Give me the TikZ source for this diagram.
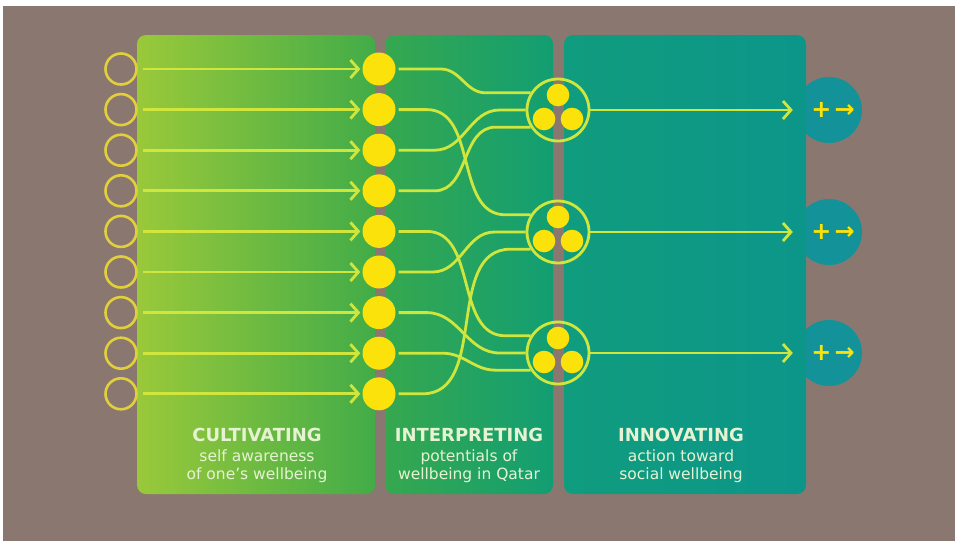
\documentclass[tikz,border=0pt]{standalone}
\usepackage{fontspec}
\setmainfont{DejaVu Sans}
\usetikzlibrary{arrows.meta,calc}
\definecolor{bgbrown}{HTML}{8A7870}
\definecolor{ringgold}{HTML}{E2CF3C}
\definecolor{linegreen}{HTML}{D0E63C}
\definecolor{dotyellow}{HTML}{FBE20A}
\definecolor{pa}{HTML}{9AC93A}
\definecolor{pb}{HTML}{42AC48}
\definecolor{pc}{HTML}{36A84E}
\definecolor{pd}{HTML}{129E73}
\definecolor{pe}{HTML}{109C7E}
\definecolor{pf}{HTML}{0C968A}
\definecolor{endteal}{HTML}{13929A}
\definecolor{txtc}{HTML}{E6F3D2}
\begin{document}
\begin{tikzpicture}[x=1pt,y=-1pt,
  srcring/.style={circle, draw=ringgold, line width=2.6pt, minimum size=31pt, inner sep=0pt},
  ydot/.style={circle, fill=dotyellow, minimum size=33pt, inner sep=0pt},
  grpring/.style={circle, draw=linegreen, line width=2.8pt, minimum size=62pt, inner sep=0pt},
  endc/.style={circle, fill=endteal, minimum size=66pt, inner sep=0pt},
  endlbl/.style={text=dotyellow, font=\bfseries\fontsize{24}{24}\selectfont, inner sep=0pt},
  flow/.style={draw=linegreen, line width=2.8pt, -{Straight Barb[length=8pt,width=18pt]}},
  curv/.style={draw=linegreen, line width=2.8pt},
  ttl/.style={anchor=base, text=txtc, font=\bfseries\fontsize{18}{20}\selectfont, inner sep=0pt},
  sub/.style={anchor=base, text=txtc, font=\fontsize{15.5}{18}\selectfont, inner sep=0pt}]
\useasboundingbox (0,0) rectangle (955,541);
\fill[white] (0,0) rectangle (955,541);
\fill[bgbrown] (3,6) rectangle (955,541);
% end circles (behind panel edge)
\node[endc] (e1) at (829,110) {};
\node[endc] (e2) at (829,232) {};
\node[endc] (e3) at (829,353) {};
% panels
\shade[left color=pa, right color=pb, rounded corners=9pt] (137,35) rectangle (375,494);
\shade[left color=pc, right color=pd, rounded corners=9pt] (385,35) rectangle (553,494);
\shade[left color=pe, right color=pf, rounded corners=9pt] (564,35) rectangle (806,494);
% labels of end circles
\node[endlbl] (l1) at (833,110) {+\kern3pt→};
\node[endlbl] (l2) at (833,232) {+\kern3pt→};
\node[endlbl] (l3) at (833,353) {+\kern3pt→};
% rows
\foreach \i in {1,...,9} {
  \pgfmathsetmacro\yy{69+40.6*(\i-1)}
  \node[srcring] (s\i) at (121,\yy) {};
  \node[ydot] (d\i) at (379,\yy) {};
  \draw[flow, shorten <=5pt, shorten >=2pt] (s\i) -- (d\i);
}
% groups
\node[grpring] (g1) at (558,110) {};
\node[grpring] (g2) at (558,232) {};
\node[grpring] (g3) at (558,353) {};
\foreach \g in {g1,g2,g3} {
  \fill[dotyellow] ($(\g)+(0,-15)$) circle (11.3);
  \fill[dotyellow] ($(\g)+(-14,9)$) circle (11.3);
  \fill[dotyellow] ($(\g)+(14,9)$) circle (11.3);
}
\draw[flow, shorten >=3pt] (g1) -- (e1);
\draw[flow, shorten >=3pt] (g2) -- (e2);
\draw[flow, shorten >=3pt] (g3) -- (e3);
% curves
\draw[curv] ([xshift=3pt]d1.east) -- ++(42,0) to[out=0,in=180] ([xshift=-45pt]g1.148) -- (g1.148);
\draw[curv] ([xshift=3pt]d3.east) -- ++(36,0) to[out=0,in=180] ([xshift=-26pt]g1.west) -- (g1.west);
\draw[curv] ([xshift=3pt]d4.east) -- ++(36,0) to[out=0,in=180] ([xshift=-35pt]g1.212) -- (g1.212);
\draw[curv] ([xshift=3pt]d2.east) -- ++(28,0) to[out=0,in=180] ([xshift=-25pt]g2.148) -- (g2.148);
\draw[curv] ([xshift=3pt]d6.east) -- ++(34,0) to[out=0,in=180] ([xshift=-31pt]g2.west) -- (g2.west);
\draw[curv] ([xshift=3pt]d9.east) -- ++(24,0) to[out=0,in=180] ([xshift=-20pt]g2.212) -- (g2.212);
\draw[curv] ([xshift=3pt]d5.east) -- ++(28,0) to[out=0,in=180] ([xshift=-25pt]g3.148) -- (g3.148);
\draw[curv] ([xshift=3pt]d7.east) -- ++(28,0) to[out=0,in=180] ([xshift=-26pt]g3.west) -- (g3.west);
\draw[curv] ([xshift=3pt]d8.east) -- ++(44,0) to[out=0,in=180] ([xshift=-35pt]g3.212) -- (g3.212);
% texts
\node[ttl] (c1) at (257,441) {CULTIVATING};
\node[sub] (c2) at (257,461) {self awareness};
\node[sub] (c3) at (257,479) {of one's wellbeing};
\node[ttl] (i1) at (469,441) {INTERPRETING};
\node[sub] (i2) at (469,461) {potentials of};
\node[sub] (i3) at (469,479) {wellbeing in Qatar};
\node[ttl] (n1) at (681,441) {INNOVATING};
\node[sub] (n2) at (681,461) {action toward};
\node[sub] (n3) at (681,479) {social wellbeing};
\end{tikzpicture}
\end{document}
